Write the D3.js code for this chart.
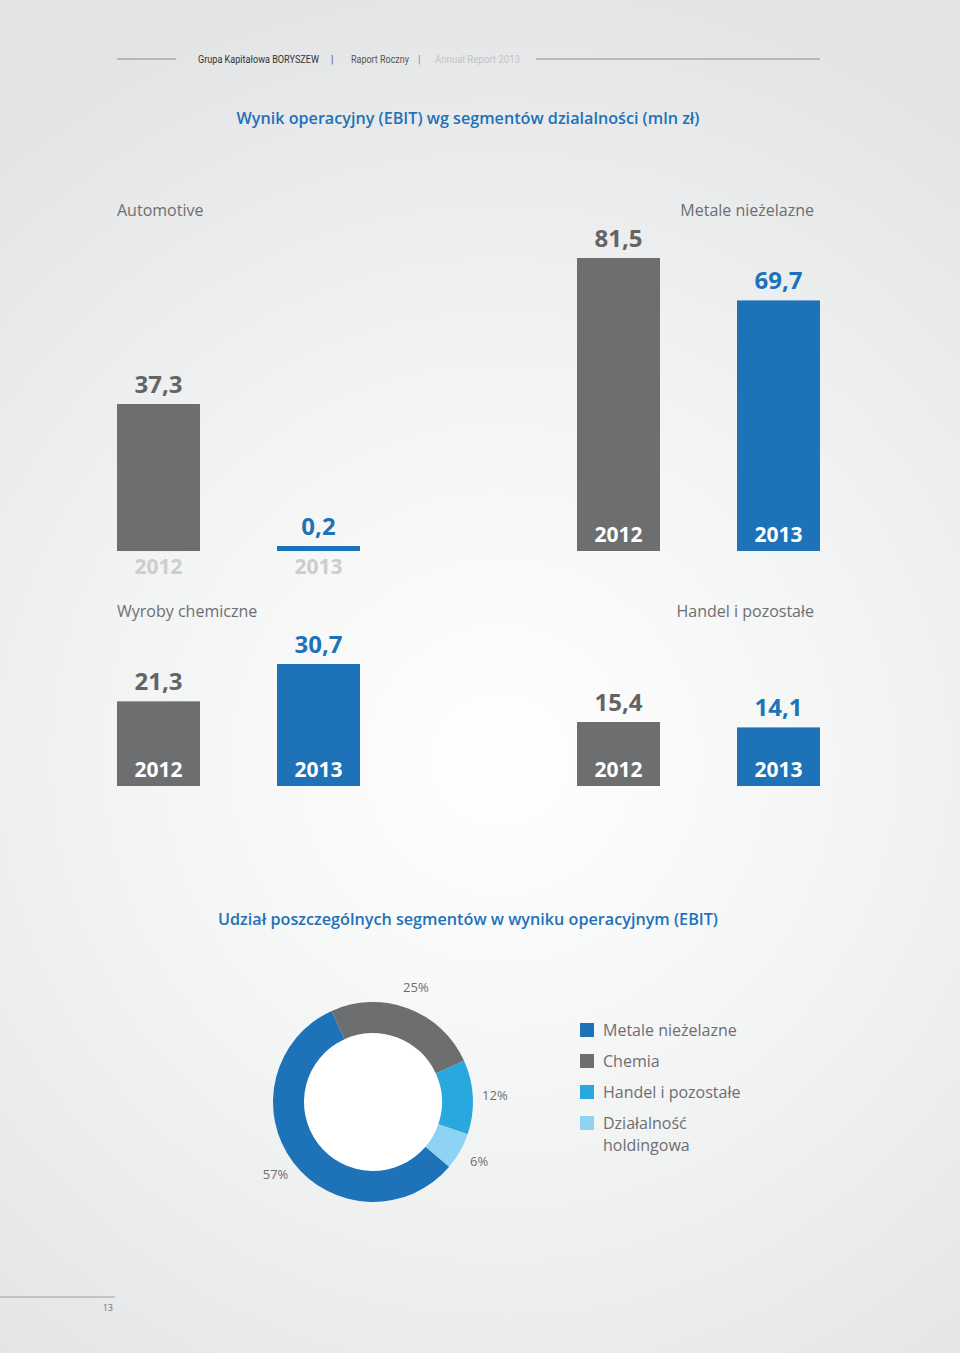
<!DOCTYPE html>
<html><head><meta charset="utf-8">
<script src="https://cdn.jsdelivr.net/npm/d3@7"></script>
<style>
html,body{margin:0;padding:0;}
svg{display:block;font-family:"Open Sans",sans-serif;}
</style></head>
<body>
<svg id="c" width="960" height="1353"></svg>
<script>
// ---- data ----
const years = ["2012", "2013"];
const segments = ["Automotive", "Metale nieżelazne", "Wyroby chemiczne", "Handel i pozostałe"];
const ebit2012 = [37.3, 81.5, 21.3, 15.4];
const ebit2013 = [0.2, 69.7, 30.7, 14.1];
const shareLabels = ["Metale nieżelazne", "Chemia", "Handel i pozostałe", "Działalność holdingowa"];
const shareValues = [57, 25, 12, 6];
const title1 = "Wynik operacyjny (EBIT) wg segmentów dzialalności (mln zł)";
const title2 = "Udział poszczególnych segmentów w wyniku operacyjnym (EBIT)";

// ---- styles ----
const C_GRAY = "#6d6e70", C_BLUE = "#1d72b8", C_CYAN = "#29a8e0", C_LIGHT = "#8ed2f4";
const C_TEXT = "#6d6e71", C_VAL = "#636466";
const shareColors = [C_BLUE, C_GRAY, C_CYAN, C_LIGHT];

const svg = d3.select("#c");
const defs = svg.append("defs");
const rg = defs.append("radialGradient").attr("id", "bg").attr("gradientUnits", "userSpaceOnUse")
  .attr("cx", 500).attr("cy", 760).attr("r", 820);
rg.append("stop").attr("offset", "0").attr("stop-color", "#ffffff");
rg.append("stop").attr("offset", "0.45").attr("stop-color", "#f3f4f4");
rg.append("stop").attr("offset", "1").attr("stop-color", "#e2e3e4");
svg.append("rect").attr("width", 960).attr("height", 1353).attr("fill", "url(#bg)");

// ---- header ----
const hy = 59;
svg.append("line").attr("x1", 117).attr("x2", 176).attr("y1", hy).attr("y2", hy).attr("stroke", "#8a8b8d").attr("stroke-width", 1);
svg.append("line").attr("x1", 536).attr("x2", 820).attr("y1", hy).attr("y2", hy).attr("stroke", "#8a8b8d").attr("stroke-width", 1);
const hdr = [
  {t: "Grupa Kapitałowa BORYSZEW", x: 198, w: 121, c: "#333333"},
  {t: "|", x: 331, w: 3, c: "#555555"},
  {t: "Raport Roczny", x: 351, w: 58, c: "#555555"},
  {t: "|", x: 418, w: 3, c: "#888888"},
  {t: "Annual Report 2013", x: 435, w: 85, c: "#c4c5c6"}
];
svg.selectAll("text.hdr").data(hdr).join("text").attr("class", "hdr")
  .attr("x", d => d.x).attr("y", hy + 4).attr("font-size", 10).attr("font-family", "Liberation Sans Narrow, Roboto, sans-serif")
  .attr("fill", d => d.c).attr("textLength", d => d.t.length > 1 ? d.w : null).attr("lengthAdjust", "spacingAndGlyphs")
  .text(d => d.t);

// ---- titles ----
svg.append("text").attr("x", 468).attr("y", 124).attr("text-anchor", "middle")
  .attr("font-size", 16).attr("font-weight", 600).attr("fill", C_BLUE)
  .attr("textLength", 463).attr("lengthAdjust", "spacingAndGlyphs").text(title1);
svg.append("text").attr("x", 468).attr("y", 925).attr("text-anchor", "middle")
  .attr("font-size", 16).attr("font-weight", 600).attr("fill", C_BLUE)
  .attr("textLength", 500).attr("lengthAdjust", "spacingAndGlyphs").text(title2);

// ---- bar panels ----
const panels = [
  {x0: 117, base: 551, maxH: 147, labelY: 216, anchor: "start", lx: 117},
  {x0: 577, base: 551, maxH: 293, labelY: 216, anchor: "end", lx: 814},
  {x0: 117, base: 786, maxH: 122, labelY: 617, anchor: "start", lx: 117},
  {x0: 577, base: 786, maxH: 64, labelY: 617, anchor: "end", lx: 814}
];
segments.forEach((seg, i) => {
  const p = panels[i];
  const vals = [ebit2012[i], ebit2013[i]];
  const x = d3.scaleBand().domain(years).range([p.x0, p.x0 + 243]).paddingInner(77 / 160).paddingOuter(0);
  const y = d3.scaleLinear().domain([0, d3.max(vals)]).range([0, p.maxH]);
  const h = v => Math.max(y(v), 5);
  const g = svg.append("g");
  const data = years.map((yr, j) => ({yr, v: vals[j], j}));
  const inside = d3.min(data, d => h(d.v)) > 40;
  g.selectAll("rect").data(data).join("rect")
    .attr("x", d => x(d.yr)).attr("width", x.bandwidth())
    .attr("y", d => p.base - h(d.v)).attr("height", d => h(d.v))
    .attr("fill", d => d.j === 0 ? C_GRAY : C_BLUE);
  g.selectAll("text.val").data(data).join("text").attr("class", "val")
    .attr("x", d => x(d.yr) + x.bandwidth() / 2).attr("y", d => p.base - h(d.v) - 11)
    .attr("text-anchor", "middle").attr("font-size", 24).attr("font-weight", 700)
    .attr("fill", d => d.j === 0 ? C_VAL : C_BLUE)
    .text(d => d3.format(".1f")(d.v).replace(".", ","));
  g.selectAll("text.yr").data(data).join("text").attr("class", "yr")
    .attr("x", d => x(d.yr) + x.bandwidth() / 2).attr("y", p.base + (inside ? -9 : 23))
    .attr("text-anchor", "middle").attr("font-size", 21).attr("font-weight", 700)
    .attr("fill", inside ? "#ffffff" : "#cccdce")
    .text(d => d.yr);
  svg.append("text").attr("x", p.lx).attr("y", p.labelY).attr("text-anchor", p.anchor)
    .attr("font-size", 16).attr("fill", C_TEXT).text(seg);
});

// ---- donut ----
const cx = 373, cy = 1102;
const pie = d3.pie().sort(null).value(d => d)
  .startAngle(130.4 * Math.PI / 180).endAngle(130.4 * Math.PI / 180 + 2 * Math.PI);
const arcs = pie(shareValues);
const arc = d3.arc().innerRadius(69).outerRadius(100);
const dg = svg.append("g").attr("transform", `translate(${cx},${cy})`);
dg.append("circle").attr("r", 69).attr("fill", "#ffffff");
dg.selectAll("path").data(arcs).join("path").attr("d", arc).attr("fill", (d, i) => shareColors[i]);
const labelArc = d3.arc().innerRadius(122).outerRadius(122);
dg.selectAll("text").data(arcs).join("text")
  .attr("transform", d => { const c = labelArc.centroid(d); return `translate(${c[0]},${c[1] + 4})`; })
  .attr("text-anchor", "middle").attr("font-size", 13).attr("fill", C_TEXT)
  .text(d => d.data + "%");

// ---- legend ----
const lg = svg.append("g").attr("transform", "translate(580,1023)");
const rows = lg.selectAll("g").data(shareLabels).join("g").attr("transform", (d, i) => `translate(0,${i * 31})`);
rows.append("rect").attr("width", 14).attr("height", 14).attr("fill", (d, i) => shareColors[i]);
rows.append("text").attr("x", 23).attr("y", 13).attr("font-size", 16).attr("fill", C_TEXT)
  .each(function (d) {
    const parts = d === "Działalność holdingowa" ? ["Działalność", "holdingowa"] : [d];
    const t = d3.select(this);
    parts.forEach((s, k) => t.append("tspan").attr("x", 23).attr("dy", k ? 22 : 0).text(s));
  });

// ---- footer ----
svg.append("line").attr("x1", 0).attr("x2", 115).attr("y1", 1297).attr("y2", 1297).attr("stroke", "#b5b6b8").attr("stroke-width", 1.5);
svg.append("text").attr("x", 113).attr("y", 1311).attr("text-anchor", "end").attr("font-size", 9).attr("fill", "#6d6e71").text("13");
</script>
</body></html>
